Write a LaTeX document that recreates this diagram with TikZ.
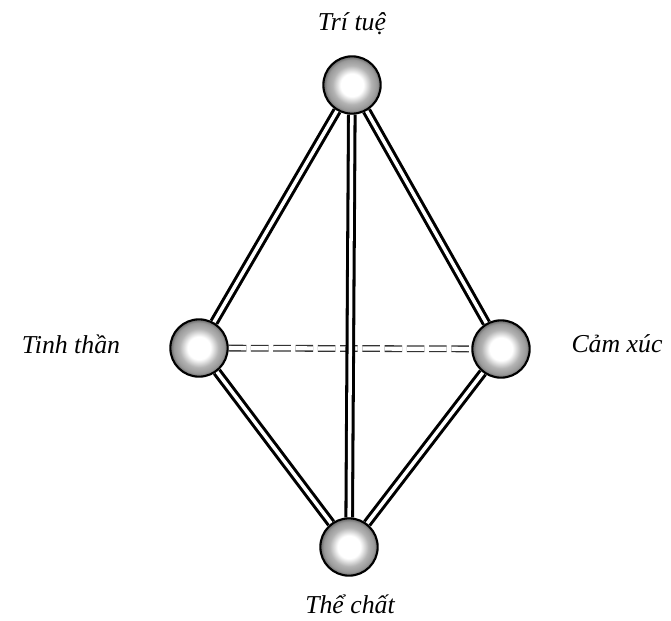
\documentclass[tikz,border=0pt]{standalone}
\usepackage{fontspec}
\setmainfont{Liberation Serif}
\usepackage{tikz}
\usetikzlibrary{positioning, backgrounds}
\pgfdeclareradialshading{stipple}{\pgfpoint{0bp}{0bp}}{%
  color(0bp)=(white); color(10bp)=(white); color(17bp)=(gray!60);
  color(22bp)=(gray!80); color(25bp)=(black!60); color(50bp)=(black!60)}

\begin{document}
\begin{tikzpicture}[x=0.03cm, y=-0.03cm,
      every node/.style={font=\fontsize{22}{24}\selectfont\itshape},
      ball/.style={circle, draw=black, line width=1.8pt, shading=stipple,
                   minimum size=1.72cm, inner sep=0pt},
      rod/.style={draw=black, line width=2.6pt, double=white, double distance=3pt},
      dashrod/.style={draw=black!80, line width=1.1pt, double=white, double distance=3.6pt,
                      dash pattern=on 15pt off 4pt},
    ]
    \useasboundingbox (0,0) rectangle (671,621);

    % the four spheres
    \node[ball] (tri)  at (352, 85)  {};
    \node[ball] (tinh) at (199, 348) {};
    \node[ball] (cam)  at (501, 349) {};
    \node[ball] (the)  at (349, 547) {};

    % labels
    \node (tritext)  at (352, 24)  {Trí tuệ};
    \node (tinhtext) at (71, 344)  {Tinh thần};
    \node (camtext)  at (617, 344) {Cảm xúc};
    \node (thetext)  at (350, 604) {Thể chất};

    % rods
    \begin{scope}[on background layer]
      \draw[dashrod] (tinh) -- (cam);
      \draw[rod] (tri) -- (tinh);
      \draw[rod] (tri) -- (cam);
      \draw[rod] (tri) -- (the);
      \draw[rod] (tinh) -- (the);
      \draw[rod] (cam) -- (the);
    \end{scope}
\end{tikzpicture}
\end{document}
